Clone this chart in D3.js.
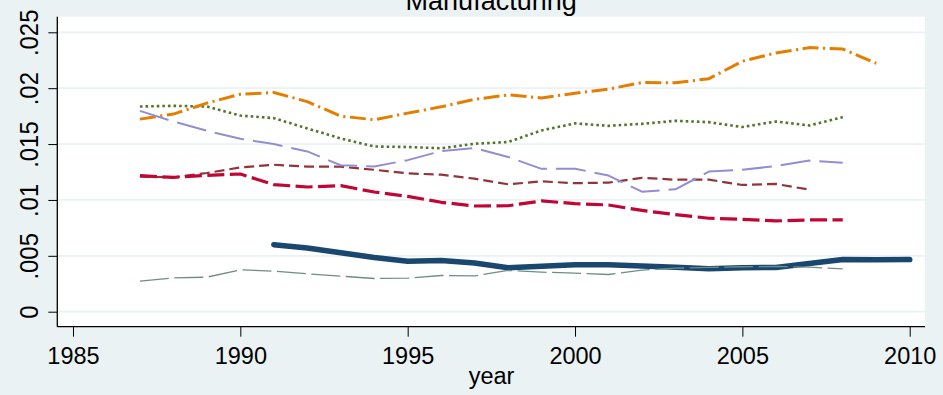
<!DOCTYPE html>
<html>
<head>
<meta charset="utf-8">
<script src="https://cdn.jsdelivr.net/npm/d3@7"></script>
<style>
  html, body { margin: 0; padding: 0; background: #eaf2f3; }
  svg { display: block; }
  text { font-family: "Liberation Sans", Arial, Helvetica, sans-serif; fill: #000; }
</style>
</head>
<body>
<svg id="chart" width="943" height="395"></svg>
<script>
// Yearly shares, 1987-2010 (null = no observation)
const years = [1987, 1988, 1989, 1990, 1991, 1992, 1993, 1994, 1995, 1996, 1997, 1998,
               1999, 2000, 2001, 2002, 2003, 2004, 2005, 2006, 2007, 2008, 2009, 2010];

const navySeries = [null, null, null, null, .0060, .0057, .00527, .00485, .00452, .00458, .00436, .00393,
                    .00407, .0042, .0042, .0041, .00398, .00384, .00393, .00396, .00431, .00467, .00464, .00466];
const maroonSeries = [.01208, .01202, .01241, .01291, .01315, .01298, .01297, .0127, .01238, .01226, .0119, .01140,
                      .01166, .01150, .01155, .01198, .01181, .01181, .01134, .01143, .01092, null, null, null];
const greenSeries = [.01836, .01842, .01836, .01755, .01732, .01640, .01550, .01478, .01474, .01462, .01503, .01518,
                     .01622, .01685, .01663, .01681, .01708, .01696, .01652, .01702, .01666, .01741, null, null];
const orangeSeries = [.01723, .01768, .01866, .01946, .01961, .0188, .01750, .01717, .01777, .01833, .01900, .0194,
                      .01913, .01955, .01992, .0205, .02048, .02085, .02241, .02315, .02363, .0235, .02223, null];
const tealSeries = [.00273, .00303, .00309, .00375, .00363, .00339, .00318, .00297, .003, .00324, .00321, .00369,
                    .00354, .00345, .00333, .00372, .00389, .00396, .00402, .00405, .00398, .00384, null, null];
const cranberrySeries = [.01217, .01202, .0122, .01232, .01137, .01116, .01128, .01071, .01032, .00979, .00946, .00948,
                         .00991, .00967, .00955, .00906, .00869, .00836, .00827, .00812, .00821, .00821, null, null];
const lavenderSeries = [.01797, .01702, .01619, .01547, .015, .01434, .01310, .013, .01356, .01437, .01464, .01385,
                        .01278, .0128, .01218, .01074, .01095, .01254, .0127, .01303, .01352, .01333, null, null];

const xTicks = [1985, 1990, 1995, 2000, 2005, 2010];
const xTickLabels = ["1985", "1990", "1995", "2000", "2005", "2010"];
const yTicks = [0, .005, .01, .015, .02, .025];
const yTickLabels = ["0", ".005", ".01", ".015", ".02", ".025"];

const titleText = "Manufacturing";
const xTitle = "year";

// Drawing order and line styles
const series = [
  { values: navySeries,      color: "#1a476f", width: 5.5, dash: null,             cap: "round" },
  { values: maroonSeries,    color: "#90353b", width: 2.2, dash: "10,5",           cap: "butt" },
  { values: greenSeries,     color: "#55752f", width: 2.6, dash: "2.6,3",          cap: "butt" },
  { values: orangeSeries,    color: "#e37e00", width: 3,   dash: "16,4.5,2.2,4.5", cap: "butt" },
  { values: tealSeries,      color: "#6e8e84", width: 1.3, dash: "29,5.5",         cap: "butt" },
  { values: cranberrySeries, color: "#c10534", width: 3.2, dash: "17,5.5",         cap: "butt" },
  { values: lavenderSeries,  color: "#938dd2", width: 2,   dash: "30,9",           cap: "butt" }
];

const svg = d3.select("#chart");
const W = 943, H = 395;

// Plot region
const plot = { left: 57.3, right: 925, top: 16.7, bottom: 326.7 };

const x = d3.scaleLinear().domain([1985, 2010]).range([73, 909.7]);
const y = d3.scaleLinear().domain([0, .025]).range([311.7, 32.3]);

svg.append("rect").attr("width", W).attr("height", H).attr("fill", "#eaf2f3");
svg.append("rect")
  .attr("x", plot.left).attr("y", plot.top)
  .attr("width", plot.right - plot.left).attr("height", plot.bottom - plot.top)
  .attr("fill", "#ffffff");

// Horizontal grid lines
svg.append("g").selectAll("line").data(yTicks).join("line")
  .attr("x1", plot.left).attr("x2", plot.right)
  .attr("y1", d => y(d)).attr("y2", d => y(d))
  .attr("stroke", "#eaf2f3").attr("stroke-width", 1.8);

// Series
const line = d3.line()
  .defined(d => d.v !== null)
  .x(d => x(d.year))
  .y(d => y(d.v));

const lines = svg.append("g");
series.forEach(s => {
  const pts = years.map((yr, i) => ({ year: yr, v: s.values[i] }));
  lines.append("path")
    .datum(pts)
    .attr("d", line)
    .attr("fill", "none")
    .attr("stroke", s.color)
    .attr("stroke-width", s.width)
    .attr("stroke-linejoin", "round")
    .attr("stroke-linecap", s.cap)
    .attr("stroke-dasharray", s.dash);
});

// Axes
const xAxis = d3.axisBottom(x)
  .tickValues(xTicks)
  .tickFormat((d, i) => xTickLabels[i])
  .tickSize(10)
  .tickSizeOuter(0);

const gx = svg.append("g")
  .attr("transform", `translate(0,${plot.bottom})`)
  .call(xAxis);
gx.select(".domain").remove();
gx.selectAll(".tick line").attr("stroke", "#000").attr("stroke-width", 1);
gx.selectAll(".tick text")
  .attr("y", 37.6).attr("dy", null)
  .style("font-size", "23.5px")
  .attr("font-family", null);

const yAxis = d3.axisLeft(y)
  .tickValues(yTicks)
  .tickFormat((d, i) => yTickLabels[i])
  .tickSize(9)
  .tickSizeOuter(0);

const gy = svg.append("g")
  .attr("transform", `translate(${plot.left},0)`)
  .call(yAxis);
gy.select(".domain").remove();
gy.selectAll(".tick line").attr("stroke", "#000").attr("stroke-width", 1);
gy.selectAll(".tick text")
  .attr("x", null).attr("dy", null)
  .attr("text-anchor", "middle")
  .attr("transform", "translate(-19,0) rotate(-90) scale(0.92,1)")
  .style("font-size", "26px");

// Axis lines spanning the whole plot region
svg.append("line")
  .attr("x1", plot.left).attr("x2", plot.left)
  .attr("y1", plot.top).attr("y2", plot.bottom)
  .attr("stroke", "#000").attr("stroke-width", 1.3);
svg.append("line")
  .attr("x1", plot.left).attr("x2", plot.right)
  .attr("y1", plot.bottom).attr("y2", plot.bottom)
  .attr("stroke", "#000").attr("stroke-width", 1.3);

// Titles
svg.append("text")
  .attr("x", (plot.left + plot.right) / 2).attr("y", 9.5)
  .attr("text-anchor", "middle")
  .style("font-size", "27px")
  .text(titleText);

svg.append("text")
  .attr("x", 491.5).attr("y", 384)
  .attr("text-anchor", "middle")
  .style("font-size", "23.5px")
  .text(xTitle);
</script>
</body>
</html>
